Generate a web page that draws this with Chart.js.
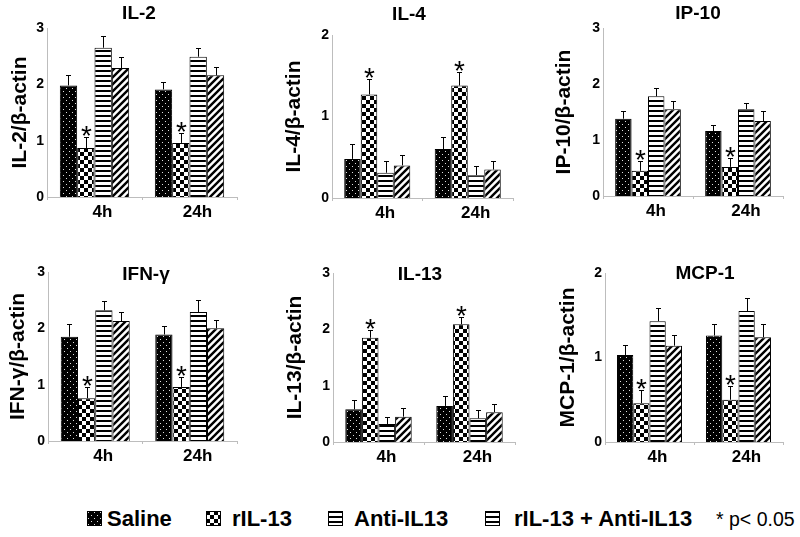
<!DOCTYPE html>
<html><head><meta charset="utf-8">
<script src="https://cdn.jsdelivr.net/npm/chart.js@4.4.1/dist/chart.umd.min.js"></script>
<style>
body{margin:0;background:#fff;width:800px;height:537px;overflow:hidden;position:relative;font-family:"Liberation Sans",Arial,sans-serif;}
canvas.p{position:absolute;}
.lt{position:absolute;top:507px;font-weight:bold;font-size:22px;line-height:24px;color:#000;white-space:nowrap;}
.sw{position:absolute;top:511px;}
.pn{position:absolute;top:508px;font-size:19.5px;line-height:22px;color:#000;white-space:nowrap;}
</style></head><body>
<script>
// ---------- data ----------
const categories = ['4h', '24h'];
const seriesNames = ['Saline', 'rIL-13', 'Anti-IL13', 'rIL-13 + Anti-IL13'];
const panelTitles = ['IL-2', 'IL-4', 'IP-10', 'IFN-γ', 'IL-13', 'MCP-1'];
const yAxisTitles = ['IL-2/β-actin', 'IL-4/β-actin', 'IP-10/β-actin', 'IFN-γ/β-actin', 'IL-13/β-actin', 'MCP-1/β-actin'];
const yMax = [3, 2, 3, 3, 3, 2];
const sigSeries = 1; // rIL-13 bars carry "*"
const sigLabel = '* p< 0.05';

// means per series: [4h, 24h]  (Saline, rIL-13, Anti-IL13, rIL-13 + Anti-IL13)
const il2Means   = [[1.98, 1.91], [0.87, 0.96], [2.65, 2.49], [2.29, 2.16]];
const il2Sem     = [[0.18, 0.14], [0.20, 0.18], [0.21, 0.15], [0.19, 0.14]];
const il4Means   = [[0.48, 0.60], [1.27, 1.38], [0.31, 0.28], [0.40, 0.35]];
const il4Sem     = [[0.18, 0.15], [0.19, 0.17], [0.15, 0.11], [0.13, 0.10]];
const ip10Means  = [[1.38, 1.16], [0.45, 0.52], [1.78, 1.55], [1.55, 1.34]];
const ip10Sem    = [[0.14, 0.10], [0.18, 0.15], [0.15, 0.11], [0.15, 0.17]];
const ifngMeans  = [[1.85, 1.89], [0.76, 0.96], [2.32, 2.29], [2.13, 2.00]];
const ifngSem    = [[0.22, 0.15], [0.20, 0.18], [0.16, 0.22], [0.16, 0.15]];
const il13Means  = [[0.58, 0.64], [1.85, 2.09], [0.32, 0.42], [0.45, 0.53]];
const il13Sem    = [[0.17, 0.18], [0.13, 0.13], [0.13, 0.15], [0.15, 0.14]];
const mcp1Means  = [[1.03, 1.26], [0.46, 0.50], [1.43, 1.55], [1.14, 1.24]];
const mcp1Sem    = [[0.12, 0.14], [0.16, 0.16], [0.16, 0.16], [0.13, 0.16]];

const panelMeans = [il2Means, il4Means, ip10Means, ifngMeans, il13Means, mcp1Means];
const panelSems  = [il2Sem, il4Sem, ip10Sem, ifngSem, il13Sem, mcp1Sem];

// ---------- layout (page pixels) ----------
const FONT = '"Liberation Sans", Arial, sans-serif';
Chart.defaults.font.family = FONT;
Chart.defaults.color = '#000';
const layouts = [
  {cx: 8,   cy: 0,   Lx: 47,  Ty: 28,  By: 197, Rx: 237, tx: 139, ty: 14},
  {cx: 282, cy: 0,   Lx: 332, Ty: 35,  By: 198, Rx: 513, tx: 409, ty: 15},
  {cx: 552, cy: 0,   Lx: 603, Ty: 28,  By: 196, Rx: 783, tx: 698, ty: 14},
  {cx: 6,   cy: 245, Lx: 48,  Ty: 272, By: 441, Rx: 237, tx: 146, ty: 275},
  {cx: 283, cy: 245, Lx: 333, Ty: 273, By: 442, Rx: 515, tx: 420, ty: 275},
  {cx: 556, cy: 245, Lx: 605, Ty: 273, By: 442, Rx: 783, tx: 705, ty: 274}
];
const H = 235;

// ---------- patterns ----------
function makeTile(kind) {
  const c = document.createElement('canvas');
  const x = c.getContext('2d');
  if (kind === 'dots') {
    c.width = 6; c.height = 6;
    x.fillStyle = '#000'; x.fillRect(0, 0, 6, 6);
    x.fillStyle = '#e0e0e0'; x.fillRect(1, 1, 1, 1); x.fillRect(4, 4, 1, 1);
  } else if (kind === 'checker') {
    c.width = 8; c.height = 8;
    x.fillStyle = '#fff'; x.fillRect(0, 0, 8, 8);
    x.fillStyle = '#000'; x.fillRect(0, 0, 4, 4); x.fillRect(4, 4, 4, 4);
  } else if (kind === 'hstripe') {
    c.width = 4; c.height = 5;
    x.fillStyle = '#fff'; x.fillRect(0, 0, 4, 5);
    x.fillStyle = '#000'; x.fillRect(0, 0, 4, 2);
  } else {
    c.width = 7; c.height = 7;
    x.fillStyle = '#fff'; x.fillRect(0, 0, 7, 7);
    x.strokeStyle = '#000'; x.lineWidth = 2.4;
    x.beginPath();
    x.moveTo(0, 7); x.lineTo(7, 0);
    x.moveTo(-1, 1); x.lineTo(1, -1);
    x.moveTo(6, 8); x.lineTo(8, 6);
    x.stroke();
  }
  return c;
}
const tileKinds = ['dots', 'checker', 'hstripe', 'diag'];
const legendKinds = ['dots', 'checker', 'hstripe', 'hstripe'];

// ---------- plugins ----------
const errorBars = {
  id: 'errorBars',
  afterDatasetsDraw(chart) {
    const ctx = chart.ctx, ys = chart.scales.y;
    ctx.save();
    ctx.strokeStyle = '#000'; ctx.lineWidth = 1;
    chart.data.datasets.forEach((ds, i) => {
      chart.getDatasetMeta(i).data.forEach((bar, j) => {
        const top = Math.round(ys.getPixelForValue(ds.data[j] + ds.sem[j])) + 0.5;
        const x = Math.round(bar.x) + 0.5;
        ctx.beginPath();
        ctx.moveTo(x, bar.y); ctx.lineTo(x, top);
        ctx.moveTo(x - 2.5, top); ctx.lineTo(x + 2.5, top);
        ctx.stroke();
        if (i === sigSeries) {
          ctx.fillStyle = '#000';
          ctx.font = '28px ' + FONT;
          ctx.textAlign = 'center'; ctx.textBaseline = 'alphabetic';
          ctx.fillText('*', x, top + 7);
        }
      });
    });
    ctx.restore();
  }
};
const panelTitle = {
  id: 'panelTitle',
  afterDraw(chart, args, o) {
    const ctx = chart.ctx;
    ctx.save();
    ctx.font = 'bold 19px ' + FONT;
    ctx.fillStyle = '#000'; ctx.textAlign = 'center'; ctx.textBaseline = 'middle';
    ctx.fillText(o.text, o.x, o.y);
    ctx.restore();
  }
};

// ---------- charts ----------
layouts.forEach((L, p) => {
  const W = L.Rx - L.cx + 6;
  const cv = document.createElement('canvas');
  cv.className = 'p'; cv.width = W; cv.height = H;
  cv.style.left = L.cx + 'px'; cv.style.top = L.cy + 'px';
  cv.style.width = W + 'px'; cv.style.height = H + 'px';
  document.body.appendChild(cv);
  const ctx = cv.getContext('2d');
  const datasets = seriesNames.map((name, s) => ({
    label: name,
    data: panelMeans[p][s],
    sem: panelSems[p][s],
    backgroundColor: ctx.createPattern(makeTile(tileKinds[s]), 'repeat'),
    borderColor: '#000',
    borderWidth: 1,
    categoryPercentage: 0.73,
    barPercentage: 1
  }));
  new Chart(cv, {
    type: 'bar',
    data: { labels: categories, datasets },
    options: {
      responsive: false, animation: false, devicePixelRatio: 1,
      layout: { padding: { top: L.Ty - L.cy, right: 6, left: 0, bottom: 0 } },
      plugins: {
        legend: { display: false }, tooltip: { enabled: false },
        panelTitle: { text: panelTitles[p], x: L.tx - L.cx, y: L.ty - L.cy }
      },
      scales: {
        x: {
          grid: { display: true, drawOnChartArea: false, drawTicks: true, tickLength: 3, color: '#bdbdbd' },
          border: { display: true, color: '#bdbdbd', width: 1 },
          ticks: { font: { size: 17, weight: 'bold' }, padding: 2, labelOffset: 8, color: '#000' },
          afterFit(s) { s.height = L.cy + H - L.By; }
        },
        y: {
          min: 0, max: yMax[p],
          grid: { display: false, drawTicks: false },
          border: { display: true, color: '#bdbdbd', width: 1 },
          ticks: { stepSize: 1, font: { size: 14, weight: 'bold' }, padding: 3, color: '#000' },
          title: { display: true, text: yAxisTitles[p], font: { size: 21, weight: 'bold' }, padding: { top: 0, bottom: 0 }, color: '#000' },
          afterFit(s) { s.width = L.Lx - L.cx; }
        }
      }
    },
    plugins: [errorBars, panelTitle]
  });
});

// ---------- legend ----------
const swX = [87, 206, 328, 485];
const txX = [107, 232, 354, 514];
seriesNames.forEach((name, s) => {
  const c = document.createElement('canvas');
  c.className = 'sw'; c.width = 15; c.height = 15;
  c.style.left = swX[s] + 'px';
  const x = c.getContext('2d');
  x.fillStyle = x.createPattern(makeTile(legendKinds[s]), 'repeat');
  x.fillRect(0, 0, 15, 15);
  x.strokeStyle = '#000'; x.lineWidth = 1; x.strokeRect(0.5, 0.5, 14, 14);
  document.body.appendChild(c);
  const t = document.createElement('div');
  t.className = 'lt'; t.style.left = txX[s] + 'px'; t.textContent = name;
  document.body.appendChild(t);
});
const pn = document.createElement('div');
pn.className = 'pn'; pn.style.left = '716px'; pn.textContent = sigLabel;
document.body.appendChild(pn);
</script>
</body></html>
